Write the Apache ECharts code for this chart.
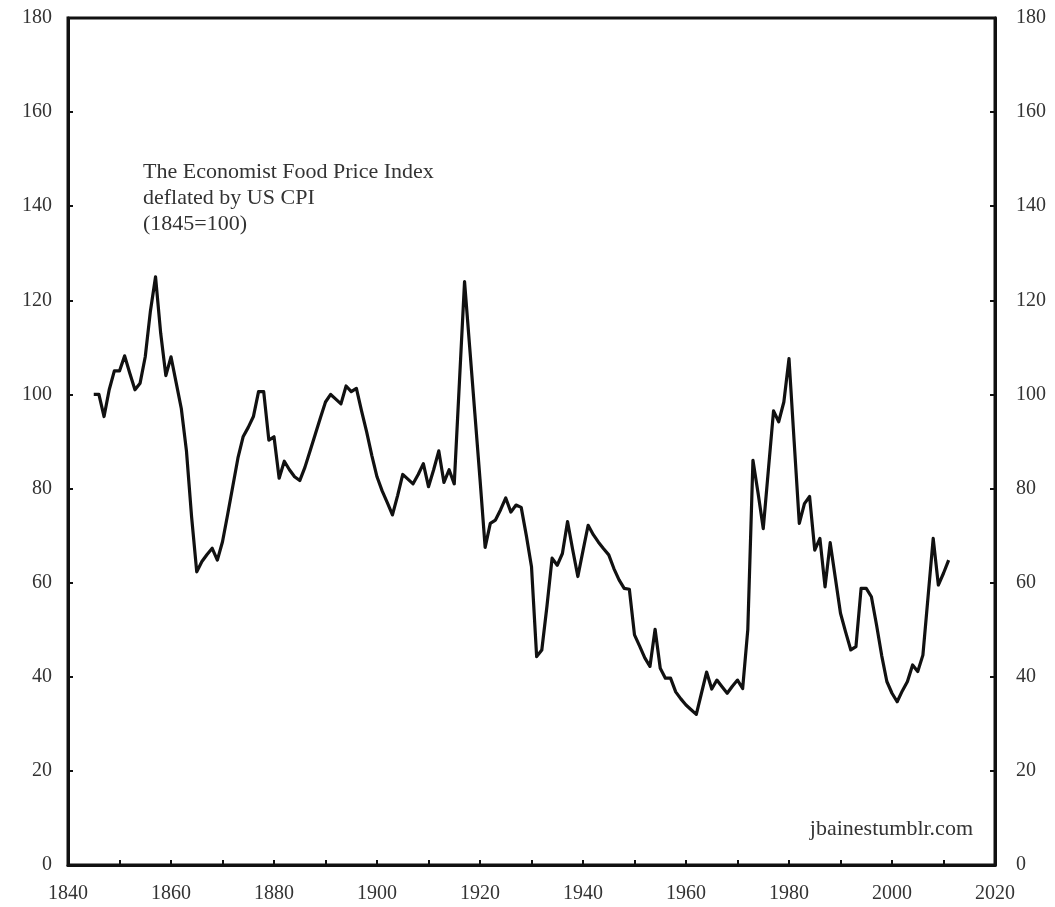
<!DOCTYPE html>
<html>
<head>
<meta charset="utf-8">
<script src="https://cdn.jsdelivr.net/npm/echarts@6/dist/echarts.min.js"></script>
<style>
html,body{margin:0;padding:0;background:#fff;}
#chart{width:1055px;height:907px;}
</style>
</head>
<body>
<div id="chart"></div>
<script>
const startYear = 1845;
const foodIndex = [
  100, 100, 95.3, 101, 105, 105, 108.2, 104.5, 101, 102.4,          // 1845-1854
  108, 117.7, 125, 113, 104, 108, 102.5, 97, 88, 74,                // 1855-1864
  62.3, 64.5, 66, 67.3, 64.8, 68.7, 74.5, 80.5, 86.5, 91,           // 1865-1874
  93, 95.3, 100.6, 100.6, 90.3, 91, 82.2, 85.8, 84, 82.5,           // 1875-1884
  81.7, 84.5, 88, 91.5, 95, 98.4, 100, 99, 98, 101.8,               // 1885-1894
  100.6, 101.3, 96.5, 92, 87, 82.5, 79.5, 77, 74.4, 78.5,           // 1895-1904
  83, 82, 81, 83, 85.3, 80.4, 84, 88, 81.3, 84,                     // 1905-1914
  81, 102.5, 124, 110, 96, 82, 67.5, 72.6, 73.3, 75.5,              // 1915-1924
  78, 75, 76.5, 76, 70, 63.4, 44.3, 45.7, 55, 65.2,                 // 1925-1934
  63.7, 66.2, 73, 67, 61.3, 66.8, 72.2, 70.2, 68.6, 67.2,           // 1935-1944
  65.9, 63, 60.6, 58.8, 58.6, 48.9, 46.5, 44, 42.2, 50.1,           // 1945-1954
  41.8, 39.7, 39.7, 36.8, 35.3, 34, 33, 32, 36.5, 41,               // 1955-1964
  37.4, 39.3, 37.9, 36.5, 38, 39.3, 37.5, 50, 86, 79,               // 1965-1974
  71.5, 84, 96.5, 94.2, 98.4, 107.6, 90, 72.6, 76.8, 78.3,          // 1975-1984
  66.9, 69.4, 59.1, 68.5, 61, 53.5, 49.5, 45.7, 46.4, 58.8,         // 1985-1994
  58.8, 57, 51, 44.5, 39, 36.5, 34.7, 37, 39, 42.5,                 // 1995-2004
  41.1, 44.6, 57, 69.4, 59.5, 62, 64.8                              // 2005-2011
];
const xTicks = [1840, 1860, 1880, 1900, 1920, 1940, 1960, 1980, 2000, 2020];
const yTicks = [0, 20, 40, 60, 80, 100, 120, 140, 160, 180];
const noteLines = ['The Economist Food Price Index', 'deflated by US CPI', '(1845=100)'];
const sourceText = 'jbainestumblr.com';

const seriesData = foodIndex.map((v, i) => [startYear + i, v]);

const chart = echarts.init(document.getElementById('chart'), null, {renderer: 'canvas'});
const font = '"Liberation Serif", "Times New Roman", serif';
function yAxisFor(pos, margin) {
  return {
    type: 'value', min: 0, max: 180, interval: 20, position: pos,
    axisLine: {show: true, lineStyle: {color: '#111', width: 3}},
    axisTick: {show: true, inside: true, length: 5, lineStyle: {color: '#111', width: 2}},
    splitLine: {show: false},
    axisLabel: {color: '#333', fontFamily: font, fontSize: 20, margin: margin,
      formatter: v => yTicks.includes(v) ? String(v) : ''}
  };
}
chart.setOption({
  animation: false,
  backgroundColor: '#fff',
  grid: {left: 68, right: 60, top: 18, bottom: 42, show: true, borderColor: '#111', borderWidth: 3, backgroundColor: 'transparent'},
  xAxis: {
    type: 'value', min: 1840, max: 2020, interval: 10,
    axisLine: {show: true, lineStyle: {color: '#111', width: 3}},
    axisTick: {show: true, inside: true, length: 5, lineStyle: {color: '#111', width: 2}},
    splitLine: {show: false},
    axisLabel: {color: '#333', fontFamily: font, fontSize: 20, margin: 19,
      formatter: v => xTicks.includes(v) ? String(v) : ''}
  },
  yAxis: [yAxisFor('left', 16), yAxisFor('right', 21)],
  graphic: [
    {type: 'text', left: 143, top: 159, style: {text: noteLines.join('\n'), font: '22px ' + font, fill: '#333', lineHeight: 26}},
    {type: 'text', right: 82, top: 818, style: {text: sourceText, font: '22px ' + font, fill: '#333'}}
  ],
  series: [{
    type: 'line',
    data: seriesData,
    yAxisIndex: 0,
    showSymbol: false,
    lineStyle: {color: '#111', width: 3.2, join: 'round'},
    z: 5
  }]
});
</script>
</body>
</html>
